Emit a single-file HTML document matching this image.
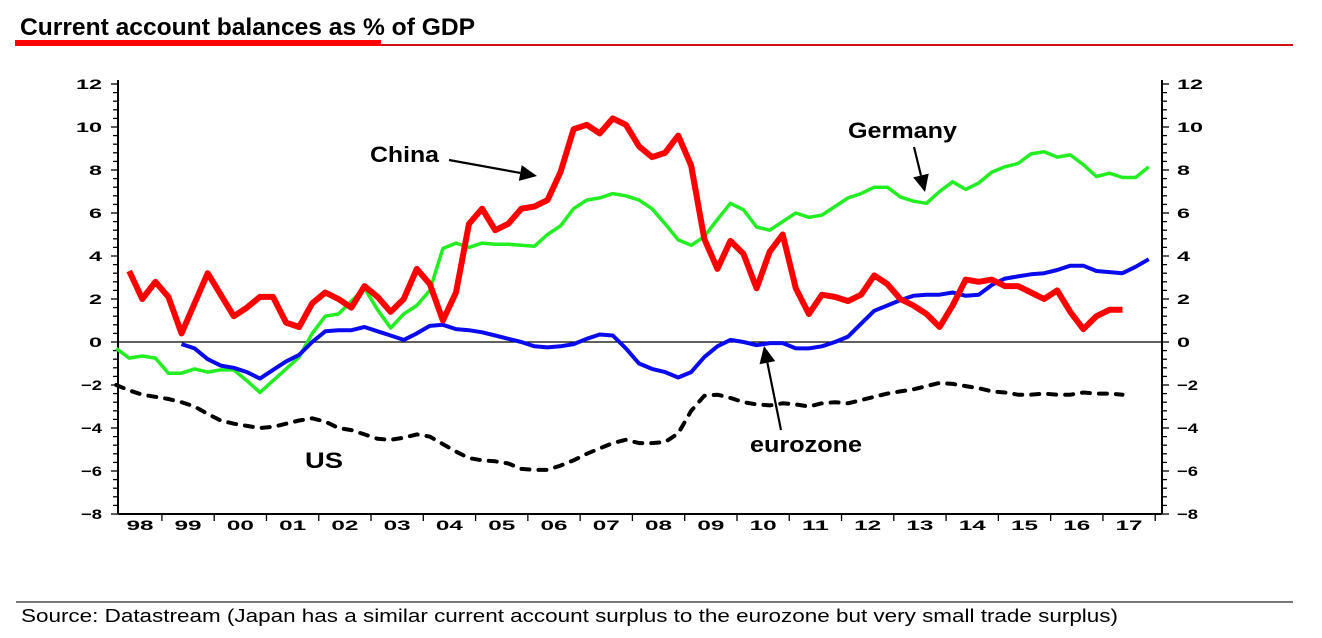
<!DOCTYPE html>
<html><head><meta charset="utf-8"><style>
html,body{margin:0;padding:0;background:#fff;}
svg{display:block;font-family:"Liberation Sans",Arial,sans-serif;}
</style></head><body>
<svg id="chart" width="1322" height="638" viewBox="0 0 1322 638">
<text x="20" y="35" font-size="24" font-weight="bold" textLength="455" lengthAdjust="spacingAndGlyphs">Current account balances as % of GDP</text>
<rect x="15" y="40" width="366" height="6" fill="#f00"/>
<rect x="381" y="44" width="912" height="2" fill="#d01010"/>
<rect x="16" y="601" width="1277" height="2" fill="#777"/>
<text x="21" y="622" font-size="18" textLength="1097" lengthAdjust="spacingAndGlyphs">Source: Datastream (Japan has a similar current account surplus to the eurozone but very small trade surplus)</text>
<g id="axes"></g>
<g id="series"></g>
<g id="annotations" font-weight="bold" font-size="22">
<text x="370" y="162" textLength="69" lengthAdjust="spacingAndGlyphs">China</text>
<text x="848" y="138" textLength="109" lengthAdjust="spacingAndGlyphs">Germany</text>
<text x="750" y="452" textLength="112" lengthAdjust="spacingAndGlyphs">eurozone</text>
<text x="305" y="468" textLength="38" lengthAdjust="spacingAndGlyphs">US</text>
</g>
</svg>
<script>
const yTicks = [12,10,8,6,4,2,0,-2,-4,-6,-8];
const yearLabels = ["98","99","00","01","02","03","04","05","06","07","08","09","10","11","12","13","14","15","16","17"];
const firstQuarter = 1998.375;
const chinaStart = 0;
const china = [3.3,2.0,2.8,2.1,0.4,1.8,3.2,2.2,1.2,1.6,2.1,2.1,0.9,0.7,1.8,2.3,2.0,1.6,2.6,2.1,1.4,2.0,3.4,2.7,1.0,2.3,5.5,6.2,5.2,5.5,6.2,6.3,6.6,7.9,9.9,10.1,9.7,10.4,10.1,9.1,8.6,8.8,9.6,8.2,4.8,3.4,4.7,4.1,2.5,4.2,5.0,2.5,1.3,2.2,2.1,1.9,2.2,3.1,2.7,2.0,1.7,1.3,0.7,1.7,2.9,2.8,2.9,2.6,2.6,2.3,2.0,2.4,1.4,0.6,1.2,1.5,1.5];
const germanyStart = -1;
const germany = [-0.3,-0.75,-0.65,-0.75,-1.45,-1.45,-1.25,-1.4,-1.3,-1.3,-1.8,-2.35,-1.8,-1.25,-0.7,0.4,1.2,1.3,1.9,2.5,1.5,0.65,1.3,1.7,2.4,4.35,4.6,4.4,4.6,4.55,4.55,4.5,4.45,5.0,5.4,6.2,6.6,6.7,6.9,6.8,6.6,6.2,5.5,4.75,4.5,4.9,5.7,6.45,6.15,5.35,5.2,5.6,6.0,5.8,5.9,6.3,6.7,6.9,7.2,7.2,6.75,6.55,6.45,7.0,7.45,7.1,7.4,7.9,8.15,8.3,8.75,8.85,8.6,8.7,8.25,7.7,7.85,7.65,7.65,8.15];
const euroStart = 4;
const eurozone = [-0.1,-0.3,-0.8,-1.1,-1.2,-1.4,-1.7,-1.3,-0.9,-0.6,0,0.5,0.55,0.55,0.7,0.5,0.3,0.1,0.4,0.75,0.8,0.6,0.55,0.45,0.3,0.15,0,-0.2,-0.25,-0.2,-0.1,0.15,0.35,0.3,-0.3,-1.0,-1.25,-1.4,-1.65,-1.4,-0.7,-0.2,0.1,0,-0.15,-0.05,-0.05,-0.3,-0.3,-0.2,0,0.25,0.85,1.45,1.7,1.95,2.15,2.2,2.2,2.3,2.15,2.2,2.65,2.95,3.05,3.15,3.2,3.35,3.55,3.55,3.3,3.25,3.2,3.5,3.85];
const usStart = -1;
const us = [-2.0,-2.25,-2.45,-2.55,-2.65,-2.8,-3.0,-3.35,-3.65,-3.8,-3.9,-4.0,-3.95,-3.8,-3.65,-3.55,-3.7,-4.0,-4.1,-4.3,-4.5,-4.55,-4.45,-4.3,-4.4,-4.75,-5.1,-5.4,-5.5,-5.55,-5.65,-5.9,-5.95,-5.95,-5.75,-5.5,-5.2,-4.95,-4.7,-4.55,-4.7,-4.7,-4.65,-4.25,-3.2,-2.5,-2.45,-2.6,-2.8,-2.9,-2.95,-2.85,-2.9,-3.0,-2.85,-2.8,-2.85,-2.7,-2.55,-2.4,-2.3,-2.2,-2.05,-1.9,-1.95,-2.05,-2.15,-2.3,-2.35,-2.45,-2.45,-2.4,-2.45,-2.45,-2.35,-2.4,-2.4,-2.45];

const NS = "http://www.w3.org/2000/svg";
const L = 118, R = 1162, T = 84, B = 514;
const yMin = -8, yMax = 12;
const xMin = 1998.16, xMax = 2018.13;
function xs(year){ return L + (year - xMin) / (xMax - xMin) * (R - L); }
function ys(v){ return B - (v - yMin) / (yMax - yMin) * (B - T); }
function qx(i){ return xs(firstQuarter + 0.25 * i); }
function mk(tag, attrs, parent){ const e = document.createElementNS(NS, tag); for (const k in attrs) e.setAttribute(k, attrs[k]); parent.appendChild(e); return e; }

const axes = document.getElementById('axes');
// axis lines
let a = mk('line', {x1:L,y1:T-4,x2:L,y2:B,stroke:'#000','stroke-width':2}, axes);


a = mk('line', {x1:R,y1:T-4,x2:R,y2:B,stroke:'#000','stroke-width':2}, axes);


a = mk('line', {x1:L,y1:B,x2:R,y2:B,stroke:'#000','stroke-width':2}, axes);


a = mk('line', {x1:L,y1:ys(0),x2:R,y2:ys(0),stroke:'#000','stroke-width':1.2}, axes);


// minor ticks
for (let v = yMin; v <= yMax + 0.001; v += 0.4) {
  const y = ys(v);
  const major = Math.abs(v / 2 - Math.round(v / 2)) < 0.01;
  const len = major ? 7 : 5;
  mk('line', {x1:L-len,y1:y,x2:L,y2:y,stroke:'#000','stroke-width':1.3}, axes);
  mk('line', {x1:R,y1:y,x2:R+len,y2:y,stroke:'#000','stroke-width':1.3}, axes);
}
yTicks.forEach(v => {
  const y = ys(v) + 5;
  const w = (v < 0 ? 8 : 0) + String(Math.abs(v)).length * 13;
  let t = mk('text', {x:102, y:y, 'text-anchor':'end', 'font-size':14, 'font-weight':'bold', textLength:w, lengthAdjust:'spacingAndGlyphs'}, axes);
  t.textContent = v < 0 ? '\u2212' + Math.abs(v) : String(v);
  
  
  t = mk('text', {x:1177, y:y, 'font-size':14, 'font-weight':'bold', textLength:w, lengthAdjust:'spacingAndGlyphs'}, axes);
  t.textContent = v < 0 ? '\u2212' + Math.abs(v) : String(v);
  
  
});
yearLabels.forEach((lab, k) => {
  const y0 = 1998 + k;
  const x0 = xs(y0), x1 = xs(y0 + 1);
  if (x0 >= L - 1) mk('line', {x1:x0,y1:B,x2:x0,y2:B+7,stroke:'#000','stroke-width':1.3}, axes);
  const cx = (Math.max(x0, L) + Math.min(x1, R)) / 2 + (k === 0 ? 0 : 0);
  const t = mk('text', {x:cx, y:530, 'text-anchor':'middle', 'font-size':14, 'font-weight':'bold', textLength:27, lengthAdjust:'spacingAndGlyphs'}, axes);
  t.textContent = lab;
  
  
});
mk('line', {x1:xs(2018),y1:B,x2:xs(2018),y2:B+7,stroke:'#000','stroke-width':1.3}, axes);

const sg = document.getElementById('series');
function drawSeries(vals, start, color, width, name, dash){
  const pts = vals.map((v, i) => qx(start + i).toFixed(1) + ',' + ys(v).toFixed(1)).join(' ');
  const attrs = {points:pts, fill:'none', stroke:color, 'stroke-width':width, 'stroke-linejoin':'round', 'stroke-linecap': dash ? 'round' : 'butt'};
  if (dash) attrs['stroke-dasharray'] = dash;
  const p = mk('polyline', attrs, sg);
  
  
}
drawSeries(us, usStart, '#000', 4, 'us-line', '8 9');
drawSeries(germany, germanyStart, '#22ee22', 3.5, 'germany-line');
drawSeries(eurozone, euroStart, '#0a0aee', 4, 'eurozone-line');
drawSeries(china, chinaStart, '#ff0000', 6, 'china-line');

const an = document.getElementById('annotations');
function arrow(x1, y1, x2, y2, name){
  const g = mk('g', {}, an);
  
  
  const dx = x2 - x1, dy = y2 - y1, len = Math.hypot(dx, dy), ux = dx / len, uy = dy / len;
  const hl = 17, hw = 8;
  const bx = x2 - ux * hl, by = y2 - uy * hl;
  mk('line', {x1:x1,y1:y1,x2:bx,y2:by,stroke:'#000','stroke-width':2.2}, g);
  mk('polygon', {points:`${x2},${y2} ${bx - uy*hw},${by + ux*hw} ${bx + uy*hw},${by - ux*hw}`, fill:'#000'}, g);
}
arrow(449, 160, 537, 176, 'china-arrow');
arrow(914, 147, 925, 192, 'germany-arrow');
arrow(781, 430, 764, 346, 'eurozone-arrow');
</script>
</body></html>
